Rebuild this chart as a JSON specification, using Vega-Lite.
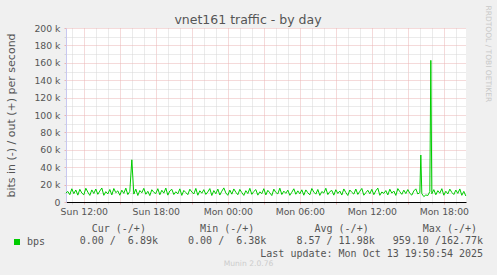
{
  "$schema": "https://vega.github.io/schema/vega-lite/v6.json",
  "width": 400,
  "height": 174,
  "autosize": "none",
  "padding": {"left": 66, "top": 28, "right": 31, "bottom": 73},
  "background": "#f0f0f0",
  "view": {"fill": "#ffffff", "stroke": null},
  "title": {"text": "vnet161 traffic - by day", "anchor": "middle", "dx": -18, "dy": 35, "offset": 4, "baseline": "alphabetic", "font": "DejaVu Sans", "fontSize": 12.5, "fontWeight": "normal", "color": "#555555"},
  "data": {"values": [
    {"t":"2025-10-12T10:31Z","k":10.5},{"t":"2025-10-12T10:40Z","k":12.1},{"t":"2025-10-12T10:50Z","k":8.4},
    {"t":"2025-10-12T11:00Z","k":15.2},{"t":"2025-10-12T11:10Z","k":9.6},{"t":"2025-10-12T11:20Z","k":13.8},{"t":"2025-10-12T11:30Z","k":7.9},{"t":"2025-10-12T11:40Z","k":14.6},{"t":"2025-10-12T11:50Z","k":10.3},
    {"t":"2025-10-12T12:00Z","k":8.2},{"t":"2025-10-12T12:10Z","k":15.8},{"t":"2025-10-12T12:20Z","k":11.4},{"t":"2025-10-12T12:30Z","k":7.6},{"t":"2025-10-12T12:40Z","k":13.9},{"t":"2025-10-12T12:50Z","k":9.8},
    {"t":"2025-10-12T13:00Z","k":14.9},{"t":"2025-10-12T13:10Z","k":8.8},{"t":"2025-10-12T13:20Z","k":12.6},{"t":"2025-10-12T13:30Z","k":16.1},{"t":"2025-10-12T13:40Z","k":7.7},{"t":"2025-10-12T13:50Z","k":11.9},
    {"t":"2025-10-12T14:00Z","k":9.3},{"t":"2025-10-12T14:10Z","k":14.4},{"t":"2025-10-12T14:20Z","k":8.1},{"t":"2025-10-12T14:30Z","k":15.5},{"t":"2025-10-12T14:40Z","k":10.7},{"t":"2025-10-12T14:50Z","k":12.8},
    {"t":"2025-10-12T15:00Z","k":7.8},{"t":"2025-10-12T15:10Z","k":13.6},{"t":"2025-10-12T15:20Z","k":9.9},{"t":"2025-10-12T15:30Z","k":15.9},{"t":"2025-10-12T15:40Z","k":8.5},{"t":"2025-10-12T15:50Z","k":12.2},
    {"t":"2025-10-12T16:00Z","k":48.5},{"t":"2025-10-12T16:10Z","k":9.1},{"t":"2025-10-12T16:20Z","k":14.8},{"t":"2025-10-12T16:30Z","k":7.5},{"t":"2025-10-12T16:40Z","k":13.2},{"t":"2025-10-12T16:50Z","k":10.6},
    {"t":"2025-10-12T17:00Z","k":15.7},{"t":"2025-10-12T17:10Z","k":8.9},{"t":"2025-10-12T17:20Z","k":12.3},{"t":"2025-10-12T17:30Z","k":7.4},{"t":"2025-10-12T17:40Z","k":14.1},{"t":"2025-10-12T17:50Z","k":11.1},
    {"t":"2025-10-12T18:00Z","k":9.7},{"t":"2025-10-12T18:10Z","k":15.3},{"t":"2025-10-12T18:20Z","k":8.3},{"t":"2025-10-12T18:30Z","k":13.5},{"t":"2025-10-12T18:40Z","k":10.2},{"t":"2025-10-12T18:50Z","k":16.0},
    {"t":"2025-10-12T19:00Z","k":7.9},{"t":"2025-10-12T19:10Z","k":12.7},{"t":"2025-10-12T19:20Z","k":14.6},{"t":"2025-10-12T19:30Z","k":8.6},{"t":"2025-10-12T19:40Z","k":11.8},{"t":"2025-10-12T19:50Z","k":9.4},
    {"t":"2025-10-12T20:00Z","k":15.1},{"t":"2025-10-12T20:10Z","k":7.6},{"t":"2025-10-12T20:20Z","k":13.3},{"t":"2025-10-12T20:30Z","k":10.9},{"t":"2025-10-12T20:40Z","k":8.4},{"t":"2025-10-12T20:50Z","k":14.7},
    {"t":"2025-10-12T21:00Z","k":11.5},{"t":"2025-10-12T21:10Z","k":9.2},{"t":"2025-10-12T21:20Z","k":15.6},{"t":"2025-10-12T21:30Z","k":7.8},{"t":"2025-10-12T21:40Z","k":12.9},{"t":"2025-10-12T21:50Z","k":10.1},
    {"t":"2025-10-12T22:00Z","k":14.2},{"t":"2025-10-12T22:10Z","k":8.7},{"t":"2025-10-12T22:20Z","k":11.6},{"t":"2025-10-12T22:30Z","k":15.4},{"t":"2025-10-12T22:40Z","k":7.5},{"t":"2025-10-12T22:50Z","k":13.1},
    {"t":"2025-10-12T23:00Z","k":9.5},{"t":"2025-10-12T23:10Z","k":14.9},{"t":"2025-10-12T23:20Z","k":8.0},{"t":"2025-10-12T23:30Z","k":12.4},{"t":"2025-10-12T23:40Z","k":16.2},{"t":"2025-10-12T23:50Z","k":10.4},
    {"t":"2025-10-13T00:00Z","k":7.7},{"t":"2025-10-13T00:10Z","k":13.7},{"t":"2025-10-13T00:20Z","k":9.0},{"t":"2025-10-13T00:30Z","k":15.0},{"t":"2025-10-13T00:40Z","k":11.3},{"t":"2025-10-13T00:50Z","k":8.3},
    {"t":"2025-10-13T01:00Z","k":14.5},{"t":"2025-10-13T01:10Z","k":10.8},{"t":"2025-10-13T01:20Z","k":7.6},{"t":"2025-10-13T01:30Z","k":13.0},{"t":"2025-10-13T01:40Z","k":9.7},{"t":"2025-10-13T01:50Z","k":15.7},
    {"t":"2025-10-13T02:00Z","k":8.8},{"t":"2025-10-13T02:10Z","k":12.1},{"t":"2025-10-13T02:20Z","k":14.3},{"t":"2025-10-13T02:30Z","k":7.9},{"t":"2025-10-13T02:40Z","k":11.7},{"t":"2025-10-13T02:50Z","k":9.6},
    {"t":"2025-10-13T03:00Z","k":15.3},{"t":"2025-10-13T03:10Z","k":8.1},{"t":"2025-10-13T03:20Z","k":13.4},{"t":"2025-10-13T03:30Z","k":10.5},{"t":"2025-10-13T03:40Z","k":7.4},{"t":"2025-10-13T03:50Z","k":14.8},
    {"t":"2025-10-13T04:00Z","k":11.0},{"t":"2025-10-13T04:10Z","k":9.3},{"t":"2025-10-13T04:20Z","k":15.9},{"t":"2025-10-13T04:30Z","k":8.6},{"t":"2025-10-13T04:40Z","k":12.5},{"t":"2025-10-13T04:50Z","k":10.0},
    {"t":"2025-10-13T05:00Z","k":13.6},{"t":"2025-10-13T05:10Z","k":7.7},{"t":"2025-10-13T05:20Z","k":11.2},{"t":"2025-10-13T05:30Z","k":15.2},{"t":"2025-10-13T05:40Z","k":8.9},{"t":"2025-10-13T05:50Z","k":12.8},
    {"t":"2025-10-13T06:00Z","k":9.4},{"t":"2025-10-13T06:10Z","k":14.0},{"t":"2025-10-13T06:20Z","k":7.8},{"t":"2025-10-13T06:30Z","k":13.9},{"t":"2025-10-13T06:40Z","k":10.6},{"t":"2025-10-13T06:50Z","k":8.2},
    {"t":"2025-10-13T07:00Z","k":15.5},{"t":"2025-10-13T07:10Z","k":11.4},{"t":"2025-10-13T07:20Z","k":9.0},{"t":"2025-10-13T07:30Z","k":14.4},{"t":"2025-10-13T07:40Z","k":7.6},{"t":"2025-10-13T07:50Z","k":12.0},
    {"t":"2025-10-13T08:00Z","k":10.3},{"t":"2025-10-13T08:10Z","k":15.8},{"t":"2025-10-13T08:20Z","k":8.5},{"t":"2025-10-13T08:30Z","k":11.9},{"t":"2025-10-13T08:40Z","k":13.3},{"t":"2025-10-13T08:50Z","k":7.9},
    {"t":"2025-10-13T09:00Z","k":14.1},{"t":"2025-10-13T09:10Z","k":9.8},{"t":"2025-10-13T09:20Z","k":12.6},{"t":"2025-10-13T09:30Z","k":8.0},{"t":"2025-10-13T09:40Z","k":15.0},{"t":"2025-10-13T09:50Z","k":10.9},
    {"t":"2025-10-13T10:00Z","k":7.5},{"t":"2025-10-13T10:10Z","k":13.8},{"t":"2025-10-13T10:20Z","k":11.1},{"t":"2025-10-13T10:30Z","k":9.1},{"t":"2025-10-13T10:40Z","k":14.9},{"t":"2025-10-13T10:50Z","k":8.7},
    {"t":"2025-10-13T11:00Z","k":12.3},{"t":"2025-10-13T11:10Z","k":15.6},{"t":"2025-10-13T11:20Z","k":7.8},{"t":"2025-10-13T11:30Z","k":10.7},{"t":"2025-10-13T11:40Z","k":13.5},{"t":"2025-10-13T11:50Z","k":9.5},
    {"t":"2025-10-13T12:00Z","k":14.6},{"t":"2025-10-13T12:10Z","k":8.4},{"t":"2025-10-13T12:20Z","k":12.9},{"t":"2025-10-13T12:30Z","k":16.0},{"t":"2025-10-13T12:40Z","k":7.7},{"t":"2025-10-13T12:50Z","k":11.5},
    {"t":"2025-10-13T13:00Z","k":9.9},{"t":"2025-10-13T13:10Z","k":13.1},{"t":"2025-10-13T13:20Z","k":8.1},{"t":"2025-10-13T13:30Z","k":14.7},{"t":"2025-10-13T13:40Z","k":10.2},{"t":"2025-10-13T13:50Z","k":12.6},
    {"t":"2025-10-13T14:00Z","k":7.6},{"t":"2025-10-13T14:10Z","k":15.4},{"t":"2025-10-13T14:20Z","k":11.8},{"t":"2025-10-13T14:30Z","k":8.8},{"t":"2025-10-13T14:40Z","k":13.6},{"t":"2025-10-13T14:50Z","k":9.7},
    {"t":"2025-10-13T15:00Z","k":14.3},{"t":"2025-10-13T15:10Z","k":10.0},{"t":"2025-10-13T15:20Z","k":7.9},{"t":"2025-10-13T15:30Z","k":12.7},{"t":"2025-10-13T15:40Z","k":15.1},{"t":"2025-10-13T15:50Z","k":9.2},
    {"t":"2025-10-13T16:00Z","k":10.8},{"t":"2025-10-13T16:05Z","k":54.0},{"t":"2025-10-13T16:10Z","k":9.6},{"t":"2025-10-13T16:20Z","k":6.2},{"t":"2025-10-13T16:30Z","k":8.1},{"t":"2025-10-13T16:40Z","k":7.4},{"t":"2025-10-13T16:50Z","k":12.0},{"t":"2025-10-13T16:55Z","k":162.8},
    {"t":"2025-10-13T17:00Z","k":9.5},{"t":"2025-10-13T17:10Z","k":14.2},{"t":"2025-10-13T17:20Z","k":8.3},{"t":"2025-10-13T17:30Z","k":13.0},{"t":"2025-10-13T17:40Z","k":10.1},{"t":"2025-10-13T17:50Z","k":15.3},
    {"t":"2025-10-13T18:00Z","k":7.8},{"t":"2025-10-13T18:10Z","k":12.4},{"t":"2025-10-13T18:20Z","k":9.3},{"t":"2025-10-13T18:30Z","k":14.8},{"t":"2025-10-13T18:40Z","k":11.0},{"t":"2025-10-13T18:50Z","k":8.6},
    {"t":"2025-10-13T19:00Z","k":13.7},{"t":"2025-10-13T19:10Z","k":9.9},{"t":"2025-10-13T19:20Z","k":15.0},{"t":"2025-10-13T19:30Z","k":7.7},{"t":"2025-10-13T19:40Z","k":12.2},{"t":"2025-10-13T19:50Z","k":6.9}
  ]},
  "layer": [
    {
      "mark": {"type": "line", "strokeWidth": 1},
      "encoding": {
        "x": {
          "field": "t", "type": "temporal",
          "scale": {"type": "utc", "nice": false, "domain": [
            {"year": 2025, "month": 10, "date": 12, "hours": 10, "minutes": 30, "seconds": 54, "utc": true},
            {"year": 2025, "month": 10, "date": 13, "hours": 19, "minutes": 50, "seconds": 54, "utc": true}
          ]},
          "axis": {
            "orient": "bottom",
            "tickCount": 34,
            "labelExpr": "utchours(datum.value) % 6 == 0 ? utcFormat(datum.value, '%a %H:%M') : ''",
            "labelOverlap": false, "labelBound": false, "labelFlush": false,
            "labelFont": "DejaVu Sans", "labelFontSize": 9.3, "labelColor": "#555555", "labelPadding": 3,
            "grid": true,
            "gridColor": {"condition": {"test": "utchours(datum.value) % 3 == 0", "value": "#eab4b4"}, "value": "#d6d6d6"},
            "gridDash": [1, 1],
            "tickSize": 2,
            "tickColor": {"condition": {"test": "utchours(datum.value) % 3 == 0", "value": "#eab4b4"}, "value": "#d6d6d6"},
            "domainColor": "#000000", "domainWidth": 1,
            "title": [
              "\u200b\u00a0\u00a0\u00a0\u00a0\u00a0\u00a0Cur\u00a0(-/+)\u00a0\u00a0\u00a0\u00a0\u00a0\u00a0\u00a0\u00a0\u00a0Min\u00a0(-/+)\u00a0\u00a0\u00a0\u00a0\u00a0\u00a0\u00a0\u00a0\u00a0\u00a0Avg\u00a0(-/+)\u00a0\u00a0\u00a0\u00a0\u00a0\u00a0\u00a0\u00a0\u00a0Max\u00a0(-/+)",
              "\u200b\u00a0\u00a0\u00a0\u00a00.00\u00a0/\u00a0\u00a06.89k\u00a0\u00a0\u00a0\u00a0\u00a00.00\u00a0/\u00a0\u00a06.38k\u00a0\u00a0\u00a0\u00a0\u00a08.57\u00a0/\u00a011.98k\u00a0\u00a0\u00a0959.10\u00a0/162.77k",
              "\u200b\u00a0\u00a0\u00a0\u00a0\u00a0\u00a0\u00a0\u00a0\u00a0\u00a0\u00a0\u00a0\u00a0\u00a0\u00a0\u00a0\u00a0\u00a0\u00a0\u00a0\u00a0\u00a0\u00a0\u00a0\u00a0\u00a0\u00a0\u00a0\u00a0\u00a0\u00a0\u00a0\u00a0\u00a0Last\u00a0update:\u00a0Mon\u00a0Oct\u00a013\u00a019:50:54\u00a02025"
            ],
            "titleFont": "DejaVu Sans Mono", "titleFontSize": 10, "titleFontWeight": "normal", "titleColor": "#555555",
            "titleAnchor": "start", "titleAlign": "left", "titleBaseline": "top",
            "titleX": -10.9, "titleY": 21, "titleLineHeight": 12.5
          }
        },
        "y": {
          "field": "k", "type": "quantitative",
          "scale": {"domain": [0, 200], "nice": false, "zero": true},
          "axis": {
            "values": [0, 10, 20, 30, 40, 50, 60, 70, 80, 90, 100, 110, 120, 130, 140, 150, 160, 170, 180, 190, 200],
            "labelExpr": "datum.value % 20 == 0 ? (datum.value == 0 ? '0' : datum.value + ' k') : ''",
            "labelOverlap": false, "labelBound": false, "labelFlush": false,
            "labelFont": "DejaVu Sans", "labelFontSize": 9.3, "labelColor": "#555555", "labelPadding": 4,
            "grid": true,
            "gridColor": {"condition": {"test": "datum.value % 20 == 0", "value": "#eab4b4"}, "value": "#d6d6d6"},
            "gridDash": [1, 1],
            "tickSize": 2,
            "tickColor": {"condition": {"test": "datum.value % 20 == 0", "value": "#eab4b4"}, "value": "#d6d6d6"},
            "domainColor": "#c8c8f0",
            "title": "bits in (-) / out (+) per second",
            "titleFont": "DejaVu Sans", "titleFontSize": 11, "titleFontWeight": "normal", "titleColor": "#555555",
            "titleAngle": 270, "titleAlign": "center", "titleBaseline": "middle", "titleX": -55, "titleY": 87
          }
        },
        "color": {
          "datum": "bps",
          "type": "nominal",
          "scale": {"range": ["#00cc00"]},
          "legend": {
            "orient": "none", "legendX": -54, "legendY": 209, "title": null, "padding": 0,
            "symbolType": "square", "symbolSize": 36, "symbolFillColor": "#00cc00", "symbolStrokeColor": "#00cc00", "symbolStrokeWidth": 0,
            "labelFont": "DejaVu Sans Mono", "labelFontSize": 10, "labelColor": "#555555", "labelOffset": 5
          }
        }
      }
    },
    {
      "mark": {"type": "line", "opacity": 0},
      "encoding": {
        "x": {
          "field": "t", "type": "temporal",
          "axis": {"orient": "top", "labels": false, "ticks": false, "domain": false, "grid": false,
            "title": "Munin 2.0.76", "titleFont": "DejaVu Sans", "titleFontSize": 7.6, "titleFontWeight": "normal", "titleColor": "#cccccc",
            "titleAnchor": "start", "titleAlign": "center", "titleBaseline": "middle", "titleX": 182, "titleY": 235}
        },
        "y": {
          "field": "k", "type": "quantitative",
          "axis": {"orient": "right", "labels": false, "ticks": false, "domain": false, "grid": false,
            "title": "RRDTOOL / TOBI OETIKER", "titleFont": "DejaVu Sans", "titleFontSize": 7.5, "titleFontWeight": "normal", "titleColor": "#c8c8c8",
            "titleAngle": 90, "titleAlign": "left", "titleBaseline": "middle", "titleX": 21, "titleY": -23}
        }
      }
    }
  ],
  "resolve": {"axis": {"x": "independent", "y": "independent"}}
}
